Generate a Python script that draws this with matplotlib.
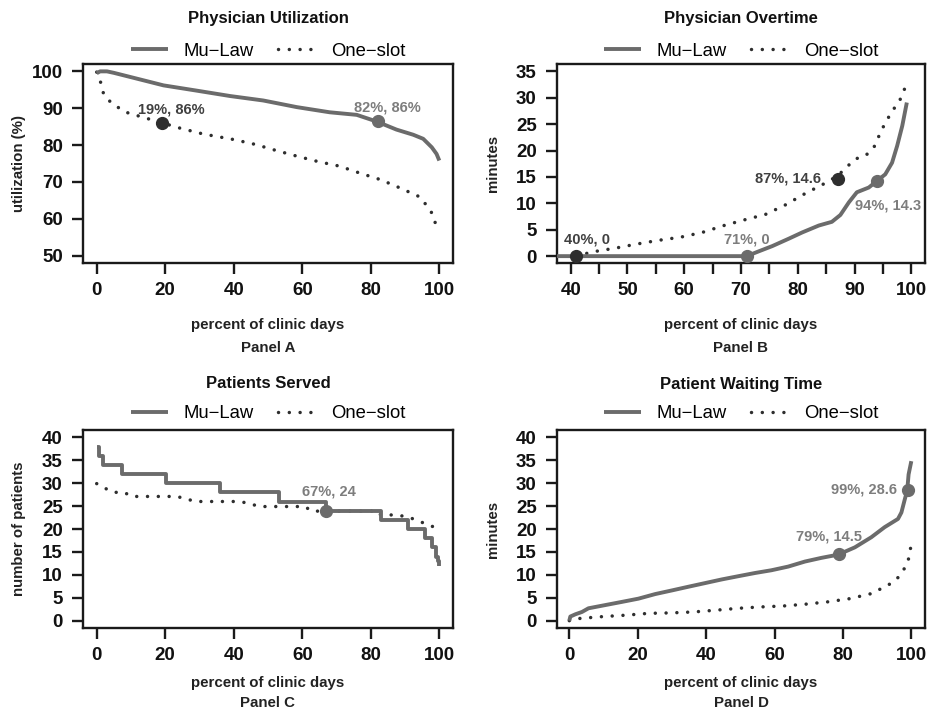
import matplotlib
matplotlib.use("Agg")
import matplotlib.pyplot as plt

plt.rcParams['font.family'] = ['Liberation Sans', 'DejaVu Sans']

# ---- data ----
series_names = ["Mu\u2212Law", "One\u2212slot"]

# Panel A: physician utilization (%)
a_mu_x = [0, 1, 3, 5, 9.7, 19.5, 29, 39, 48.6, 58.4, 68, 75.9, 81.7, 87.5, 92.4, 95.3, 97.8, 99.2, 100]
a_mu_y = [99.5, 100, 100, 99.6, 98.5, 96.2, 94.8, 93.3, 92.1, 90.3, 88.9, 88.2, 86.4, 84.2, 82.8, 81.7, 79.4, 77.6, 75.8]
a_one_x = [0, 1.2, 2, 4, 6.6, 9.2, 12.2, 18.5, 24.3, 31.1, 40, 46.2, 52.5, 58.4, 64.7, 70.8, 76.8, 82.9, 88.7, 94.4, 96.3, 98.1, 99]
a_one_y = [99.8, 96.9, 93.9, 91.7, 90, 88.7, 87.9, 86.2, 84.6, 83, 81.5, 80.2, 78.5, 77, 75.5, 74.3, 72.4, 70.6, 68.3, 65.9, 63.6, 61.2, 58.3]

# Panel B: physician overtime (minutes)
b_mu_x = [0, 71, 73.1, 75.5, 78.4, 80.8, 83.7, 86, 87.5, 89, 90.4, 92.5, 94, 95.4, 96.6, 97.5, 98.4, 99.2]
b_mu_y = [0, 0, 0.9, 1.9, 3.3, 4.5, 5.8, 6.5, 7.8, 10.2, 12.1, 13, 14.3, 15.5, 17.7, 20.9, 24.7, 29.1]
b_one_x = [41, 43.8, 47.8, 51.7, 55.5, 59.4, 63.2, 67, 70.7, 74.3, 77.8, 81.2, 84.6, 87, 90.1, 91.9, 93.4, 94.8, 96.6, 97.8, 99.2]
b_one_y = [0, 0.8, 1.5, 2.3, 3, 3.6, 4.5, 5.8, 6.9, 7.9, 9.7, 11.8, 13.7, 15.2, 18.4, 19, 20.6, 24, 27.5, 29.1, 32.7]

# Panel C: patients served
c_mu_x = [0, 0.7, 1.8, 7.3, 20.2, 36, 53.3, 67, 83, 91, 95.8, 98, 99, 99.6, 100]
c_mu_y = [38, 36, 34, 32, 30, 28, 26, 24, 22, 20, 18, 16, 14, 13, 12]
c_one_x = [0, 2.4, 4.9, 8, 10.2, 23.3, 26.1, 28.7, 41.8, 44.8, 47.5, 60.8, 62.7, 81.2, 81.7, 88, 91, 93.4, 95.8, 98.2]
c_one_y = [29.9, 28.9, 28, 28, 27.1, 27.1, 26.6, 26, 26, 25.5, 24.9, 24.9, 23.9, 23.9, 23.2, 23, 22.6, 21.9, 21.2, 20.5]

# Panel D: patient waiting time (minutes)
d_mu_x = [0, 0.3, 1.8, 3.7, 5.6, 10.5, 15.4, 20.2, 25.1, 30, 34.8, 39.7, 44.6, 49.4, 54.3, 59.1, 64, 68.9, 73.7,
          78.6, 83.5, 88.3, 92.2, 96.1, 97.1, 98.1, 98.8, 99.2, 100]
d_mu_y = [0, 0.9, 1.4, 1.9, 2.7, 3.4, 4.1, 4.8, 5.8, 6.6, 7.4, 8.2, 9, 9.7, 10.4, 11, 11.8, 12.9, 13.7,
          14.4, 16, 18.2, 20.4, 22.2, 23.6, 26.5, 28.4, 31.9, 34.8]
d_one_x = [0, 3.2, 10, 16.6, 23.2, 29.8, 36.3, 43.1, 49.4, 56, 62.5, 69.1, 75.5, 82, 88.3, 91.2, 94, 96.1, 97.9, 99.2, 99.8]
d_one_y = [0, 0.5, 0.9, 1.2, 1.6, 1.7, 1.9, 2.3, 2.7, 3, 3.2, 3.6, 4.1, 4.8, 5.9, 7, 8.1, 9.4, 11.3, 13.5, 15.9]

# highlighted points (x, y, label, which series)
a_points = [(19, 86, "19%, 86%", "one"), (82, 86.4, "82%, 86%", "mu")]
b_points = [(41, 0, "40%, 0", "one"), (71, 0, "71%, 0", "mu"), (87, 14.6, "87%, 14.6", "one"), (94, 14.3, "94%, 14.3", "mu")]
c_points = [(67, 24, "67%, 24", "mu")]
d_points = [(79, 14.5, "79%, 14.5", "mu"), (99, 28.6, "99%, 28.6", "mu")]

# label offsets in pixels (dx, dy, ha)
a_offs = [(10, 13, 'center'), (10, 14, 'center')]
b_offs = [(11, 17, 'center'), (0, 17, 'center'), (-17, 1, 'right'), (11, -25, 'center')]
c_offs = [(3, 19, 'center')]
d_offs = [(-10, 18, 'center'), (-11, 0, 'right')]

mu_col = '#6b6b6b'
one_col = '#2e2e2e'
mu_txt = '#7d7d7d'
one_txt = '#404040'

W, H = 929, 713
fig = plt.figure(figsize=(W / 100, H / 100), dpi=100)


def make_axes(left, top, right, bottom):
    return fig.add_axes([left / W, 1 - bottom / H, (right - left) / W, (bottom - top) / H])


axA = make_axes(83, 64, 453, 263)
axB = make_axes(557, 64, 925, 263)
axC = make_axes(83, 430, 453, 628)
axD = make_axes(557, 430, 925, 628)


def draw(ax, mu_x, mu_y, one_x, one_y, steps=False):
    ds = 'steps-post' if steps else 'default'
    ax.plot(mu_x, mu_y, color=mu_col, lw=2.8, drawstyle=ds, solid_capstyle='butt', label=series_names[0], zorder=3)
    ax.plot(one_x, one_y, color=one_col, lw=2.5, linestyle=(0, (0.01, 3.1)), dash_capstyle='round',
            label=series_names[1], zorder=2)


def mark(ax, pts, offs):
    for (x, y, s, kind), (dx, dy, ha) in zip(pts, offs):
        mc = mu_col if kind == 'mu' else one_col
        tc = mu_txt if kind == 'mu' else one_txt
        ax.plot([x], [y], 'o', color=mc, ms=8.5, zorder=5, clip_on=False)
        ax.annotate(s, xy=(x, y), xytext=(dx, dy), textcoords='offset pixels', ha=ha, va='center',
                    fontsize=10.5, fontweight='bold', color=tc, zorder=6, annotation_clip=False)


def style(ax, title, ylabel, panel, xlim, ylim, xticks, xtl, yticks, leg_dy, xl_dy, pn_dy):
    ax.set_xlim(*xlim)
    ax.set_ylim(*ylim)
    ax.set_xticks(xticks)
    ax.set_xticklabels(xtl)
    ax.set_yticks(yticks)
    ax.set_yticklabels([str(v) for v in yticks])
    for sp in ax.spines.values():
        sp.set_linewidth(1.7)
        sp.set_color('#1a1a1a')
    ax.tick_params(axis='both', direction='out', length=8, width=1.7, color='#1a1a1a',
                   labelsize=13.5, labelcolor='#111111')
    ax.tick_params(axis='x', pad=5.5)
    ax.tick_params(axis='y', pad=6.5)
    for lab in ax.get_xticklabels() + ax.get_yticklabels():
        lab.set_fontweight('bold')
    ax.annotate(title, xy=(0.5, 1), xycoords='axes fraction', xytext=(0, 46), textcoords='offset pixels',
                ha='center', va='center', fontsize=12, fontweight='bold', color='#111111')
    ax.annotate('percent of clinic days', xy=(0.5, 0), xycoords='axes fraction', xytext=(0, -xl_dy),
                textcoords='offset pixels', ha='center', va='center', fontsize=10.8, fontweight='bold',
                color='#222222')
    ax.annotate(panel, xy=(0.5, 0), xycoords='axes fraction', xytext=(0, -pn_dy),
                textcoords='offset pixels', ha='center', va='center', fontsize=10.8, fontweight='bold',
                color='#222222')
    ax.annotate(ylabel, xy=(0, 0.5), xycoords='axes fraction', xytext=(-64, 0), textcoords='offset pixels',
                ha='center', va='center', rotation=90, fontsize=10.8, fontweight='bold', color='#222222')
    h = ax.get_position().height * H
    ax.legend(loc='center', bbox_to_anchor=(0.5, 1 + leg_dy / h), ncol=2, frameon=False, fontsize=13.3,
              handlelength=2.0, handletextpad=0.85, columnspacing=1.35, borderpad=0, borderaxespad=0)


draw(axA, a_mu_x, a_mu_y, a_one_x, a_one_y)
mark(axA, a_points, a_offs)
style(axA, "Physician Utilization", "utilization (%)", "Panel A", (-4, 104), (48, 102),
      [0, 20, 40, 60, 80, 100], ['0', '20', '40', '60', '80', '100'], [50, 60, 70, 80, 90, 100], 13, 62, 85)

draw(axB, b_mu_x, b_mu_y, b_one_x, b_one_y)
mark(axB, b_points, b_offs)
b_ticks = list(range(40, 101, 5))
style(axB, "Physician Overtime", "minutes", "Panel B", (37.6, 102.4), (-1.3, 36.4),
      b_ticks, [str(t) if t % 10 == 0 else '' for t in b_ticks], [0, 5, 10, 15, 20, 25, 30, 35], 13, 62, 85)

draw(axC, c_mu_x, c_mu_y, c_one_x, c_one_y, steps=True)
mark(axC, c_points, c_offs)
style(axC, "Patients Served", "number of patients", "Panel C", (-4, 104), (-1.6, 41.6),
      [0, 20, 40, 60, 80, 100], ['0', '20', '40', '60', '80', '100'], [0, 5, 10, 15, 20, 25, 30, 35, 40], 16, 55, 75)

draw(axD, d_mu_x, d_mu_y, d_one_x, d_one_y)
mark(axD, d_points, d_offs)
style(axD, "Patient Waiting Time", "minutes", "Panel D", (-3.6, 104), (-1.6, 41.6),
      [0, 20, 40, 60, 80, 100], ['0', '20', '40', '60', '80', '100'], [0, 5, 10, 15, 20, 25, 30, 35, 40], 16, 55, 75)

fig.savefig('out.png', dpi=100)
